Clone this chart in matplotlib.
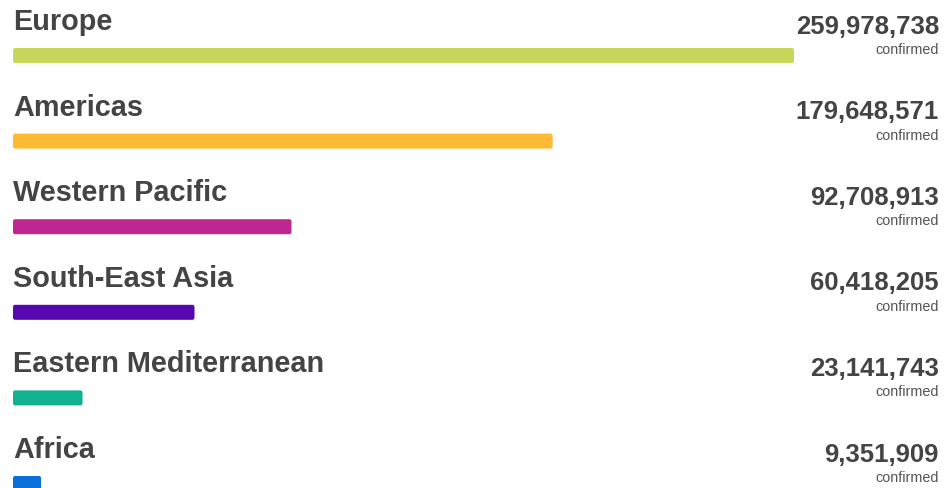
import matplotlib.pyplot as plt
from matplotlib.patches import FancyBboxPatch

regions = ['Europe', 'Americas', 'Western Pacific', 'South-East Asia',
           'Eastern Mediterranean', 'Africa']
confirmed = [259978738, 179648571, 92708913, 60418205, 23141743, 9351909]
colors = ['#c8d65b', '#fdba33', '#c0268f', '#5607b0', '#10b290', '#0a6fd8']

W, H = 953, 489
px_per_m = 3.004          # pixels per million cases
left_px = 13
row_px = 85.6
first_px = 56.5
bar_h = 15

fig = plt.figure(figsize=(W / 100, H / 100), dpi=100)
ax = fig.add_axes([0, 0, 1, 1])
ax.set_xlim(-left_px / px_per_m, (W - left_px) / px_per_m)
ax.set_ylim(H, 0)
ax.axis('off')

x_right = (939 - left_px) / px_per_m

for i, (name, val, c) in enumerate(zip(regions, confirmed, colors)):
    yc = first_px + row_px * i
    w = val / 1e6
    bar = FancyBboxPatch((0, yc - bar_h / 2), w, bar_h,
                         boxstyle='round,pad=0,rounding_size=0.7',
                         mutation_aspect=px_per_m,
                         facecolor=c, edgecolor='none')
    ax.add_patch(bar)
    ax.text(0, yc - 26.5, name, ha='left', va='baseline',
            fontsize=20.8, fontweight='bold', color='#444444',
            family='Liberation Sans')
    ax.text(x_right, yc - 23, f'{val:,}', ha='right', va='baseline',
            fontsize=18.5, fontweight='bold', color='#444444',
            family='Liberation Sans')
    ax.text(x_right, yc - 2.5, 'confirmed', ha='right', va='baseline',
            fontsize=10.4, color='#555555', family='Liberation Sans')

fig.savefig('out.png', dpi=100)
